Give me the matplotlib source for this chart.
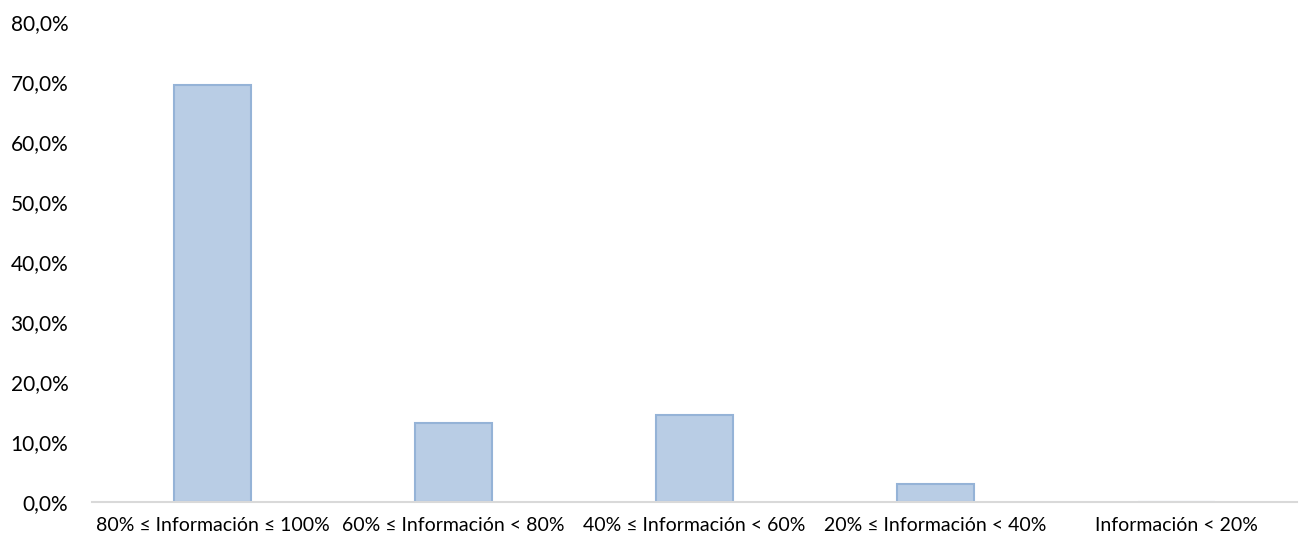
import matplotlib.pyplot as plt
from matplotlib.ticker import FuncFormatter

categorias = ['80% ≤ Información ≤ 100%', '60% ≤ Información < 80%',
              '40% ≤ Información < 60%', '20% ≤ Información < 40%',
              'Información < 20%']
porcentajes = [69.4, 13.1, 14.5, 3.0, 0.0]

plt.rcParams['font.family'] = ['Lato', 'DejaVu Sans']

fig = plt.figure(figsize=(13.12, 5.4), dpi=100)
ax = fig.add_axes([0.0701, 0.0709, 0.9185, 0.8889])

x = range(len(categorias))
ax.bar(x, porcentajes, width=0.32, color='#B9CDE5', edgecolor='#95B3D7', linewidth=1.5, zorder=2)

ax.set_xlim(-0.5, len(categorias) - 0.5)
ax.set_ylim(0, 80)
ax.set_yticks(range(0, 81, 10))
ax.yaxis.set_major_formatter(FuncFormatter(lambda v, _: f'{v:.1f}%'.replace('.', ',')))
ax.set_xticks(list(x))
ax.set_xticklabels(categorias)

for lado in ['top', 'right', 'left']:
    ax.spines[lado].set_visible(False)
ax.spines['bottom'].set_color('#D9D9D9')
ax.spines['bottom'].set_linewidth(1.5)
ax.tick_params(axis='both', length=0, colors='black')
ax.tick_params(axis='y', labelsize=15, pad=17)
ax.tick_params(axis='x', labelsize=14, pad=11)

fig.savefig('out.png', dpi=100)
